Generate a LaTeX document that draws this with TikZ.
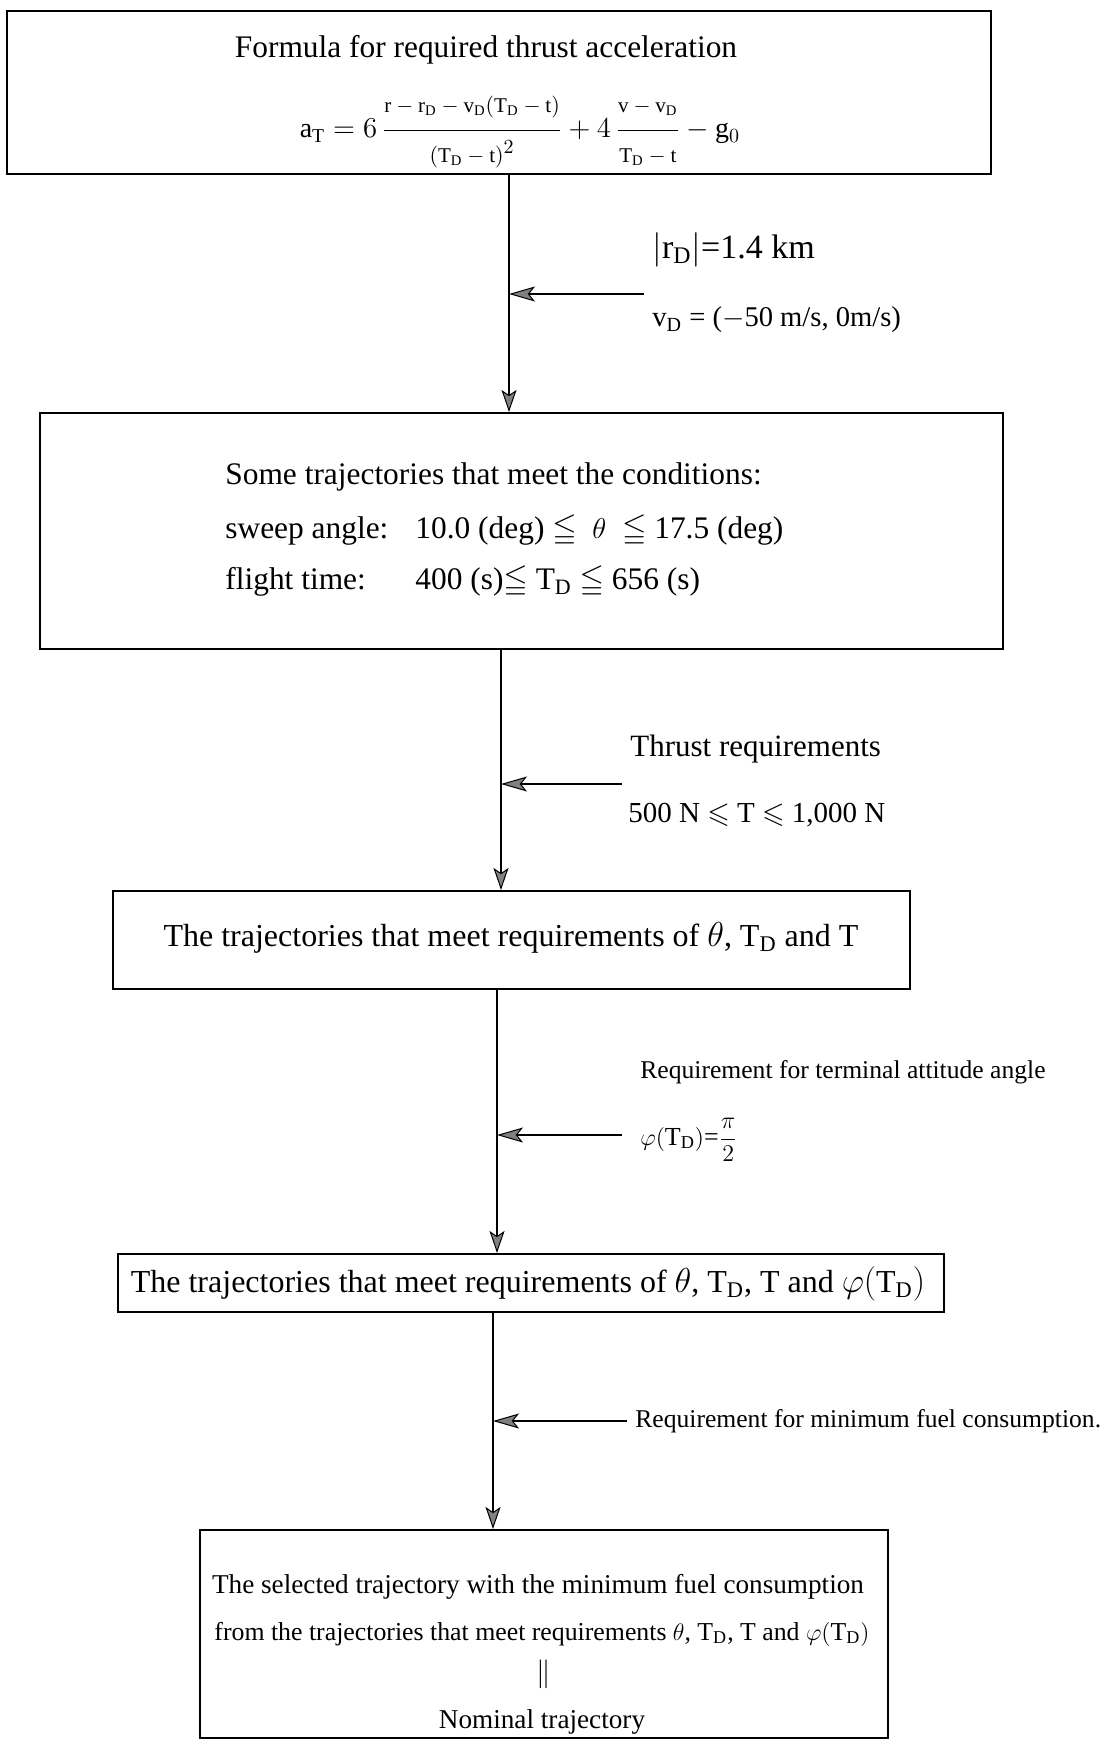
\documentclass[tikz,border=0pt]{standalone}
\usepackage{amsmath}
\usepackage{amssymb}
\usepackage{fontspec}
\setmainfont{Liberation Serif}
\usetikzlibrary{arrows.meta}
\newcommand{\fs}[1]{\fontsize{#1}{#1}\selectfont}
\newcommand{\sm}[1]{\mbox{\fs{10.5}$#1$}}
\begin{document}
\begin{tikzpicture}[x=0.5pt,y=-0.5pt,
  box/.style={draw, line width=1pt, inner sep=0pt},
  flow/.style={line width=0.8pt, -{Stealth[length=11pt,width=7.5pt,inset=2.5pt,fill=gray,line width=0.5pt]}},
  side/.style={line width=0.8pt, -{Stealth[length=13pt,width=7.5pt,inset=3pt,fill=gray,line width=0.5pt]}},
  lbl/.style={anchor=west, inner sep=0pt},
  ctr/.style={anchor=center, inner sep=0pt}]
\useasboundingbox (0,0) rectangle (1111,1741);
% boxes
\node[box, minimum width=492pt, minimum height=81.5pt] (b1) at (499,92.5) {};
\node[box, minimum width=481.5pt, minimum height=118pt] (b2) at (521.5,531) {};
\node[box, minimum width=398.5pt, minimum height=49pt] (b3) at (511.5,940) {};
\node[box, minimum width=413pt, minimum height=29pt] (b4) at (531,1283) {};
\node[box, minimum width=344pt, minimum height=104pt] (b5) at (544,1634) {};
% box 1 text
\node[ctr] (t1) at (486,50) {\fs{15.7}Formula for required thrust acceleration};
\node[ctr] (f1) at (520,132) {\fs{14}$\mathrm{a_T} = 6\,\dfrac{\sm{\mathrm{r}-\mathrm{r_D}-\mathrm{v_D}(\mathrm{T_D}-\mathrm{t})}\rule[-7pt]{0pt}{10pt}}{\rule{0pt}{14pt}\sm{(\mathrm{T_D}-\mathrm{t})}^2} + 4\,\dfrac{\sm{\mathrm{v}-\mathrm{v_D}}\rule[-7pt]{0pt}{10pt}}{\rule{0pt}{14pt}\sm{\mathrm{T_D}-\mathrm{t}}} - \mathrm{g}_0$};
% junctions
\coordinate (j1) at (509,294);
\coordinate (j2) at (501,784);
\coordinate (j3) at (497,1135);
\coordinate (j4) at (493,1421);
\coordinate (s1) at (644,294);
\coordinate (s2) at (622,784);
\coordinate (s3) at (622,1135);
\coordinate (s4) at (627,1421);
% vertical flows
\draw[flow] (b1.south -| j1) -- (b2.north -| j1);
\draw[flow] (b2.south -| j2) -- (b3.north -| j2);
\draw[flow] (b3.south -| j3) -- (b4.north -| j3);
\draw[flow] (b4.south -| j4) -- (b5.north -| j4);
% side arrows
\draw[side] (s1) -- (j1);
\draw[side] (s2) -- (j2);
\draw[side] (s3) -- (j3);
\draw[side] (s4) -- (j4);
% side labels
\node[lbl] (l1a) at (652,250) {\fs{17}$|\mathrm{r_D}|$=1.4 km};
\node[lbl] (l1b) at (652,320) {\fs{14.3}$\mathrm{v_D}$ = ($-$50 m/s, 0m/s)};
\node[lbl] (l2a) at (630,749) {\fs{15.5}Thrust requirements};
\node[lbl] (l2b) at (628,815) {\fs{14.5}500 N $\leqslant$ T $\leqslant$ 1,000 N};
\node[lbl] (l3a) at (640,1072) {\fs{12.8}Requirement for terminal attitude angle};
\node[lbl] (l3b) at (640,1140) {\fs{13}$\varphi(\mathrm{T_D})$=$\dfrac{\pi}{2}$};
\node[lbl] (l4) at (635,1421) {\fs{12.8}Requirement for minimum fuel consumption.};
% box 2 text
\node[lbl] (t2a) at (225,477) {\fs{15.7}Some trajectories that meet the conditions:};
\node[lbl] (t2b) at (225,531) {\fs{15.7}sweep angle:};
\node[lbl] (t2c) at (225,582) {\fs{15.7}flight time:};
\node[lbl] (t2d) at (415,531) {\fs{15.7}10.0 (deg)\ $\leqq$\ \ $\theta$\ \ $\leqq$\ 17.5 (deg)};
\node[lbl] (t2e) at (415,582) {\fs{15.7}400 (s)$\leqq$\ $\mathrm{T_D}$\ $\leqq$ 656 (s)};
% box 3 text
\node[ctr] (t3) at (511,938) {\fs{16}The trajectories that meet requirements of $\theta$, $\mathrm{T_D}$ and T};
% box 4 text
\node[ctr] (t4) at (528,1284) {\fs{16}The trajectories that meet requirements of $\theta$, $\mathrm{T_D}$, T and $\varphi(\mathrm{T_D})$};
% box 5 text
\node[ctr] (t5a) at (538,1587) {\fs{13.6}The selected trajectory with the minimum fuel consumption};
\node[ctr] (t5b) at (542,1634) {\fs{12.9}from the trajectories that meet requirements $\theta$, $\mathrm{T_D}$, T and $\varphi(\mathrm{T_D})$};
\node[ctr] (t5c) at (544,1674) {\fs{13.6}$\|$};
\node[ctr] (t5d) at (542,1722) {\fs{13.6}Nominal trajectory};
\end{tikzpicture}
\end{document}
